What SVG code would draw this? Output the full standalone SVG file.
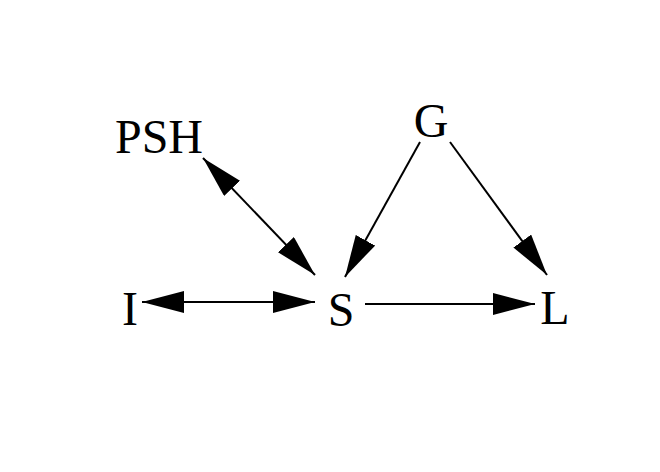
<svg xmlns="http://www.w3.org/2000/svg" width="660" height="472" viewBox="0 0 660 472">
<defs>
<style>
text{font-family:"Liberation Serif","Times New Roman",serif;font-size:48px;fill:#000;text-anchor:middle}
.e{stroke:#000;stroke-width:2;fill:none}
</style>
<marker id="ah" markerUnits="userSpaceOnUse" markerWidth="42" markerHeight="22" refX="42" refY="11" orient="auto-start-reverse" viewBox="0 0 42 22">
<path d="M0,0 L42,11 L0,22 z" fill="#000"/>
</marker>
</defs>
<rect width="660" height="472" fill="#fff"/>
<g id="connectors">
<line class="e" x1="203" y1="158" x2="315" y2="275" marker-start="url(#ah)" marker-end="url(#ah)"/>
<line class="e" x1="420" y1="142" x2="345" y2="277" marker-end="url(#ah)"/>
<line class="e" x1="450" y1="142" x2="547" y2="275" marker-end="url(#ah)"/>
<line class="e" x1="365" y1="304" x2="535" y2="304" marker-end="url(#ah)"/>
<line class="e" x1="142" y1="302" x2="315" y2="302" marker-start="url(#ah)" marker-end="url(#ah)"/>
</g>
<g id="PSH"><text x="159" y="153">PSH</text></g>
<g id="G"><text x="431" y="137">G</text></g>
<g id="I"><text x="130" y="325">I</text></g>
<g id="S"><text x="341" y="326">S</text></g>
<g id="L"><text x="555" y="324">L</text></g>
</svg>
